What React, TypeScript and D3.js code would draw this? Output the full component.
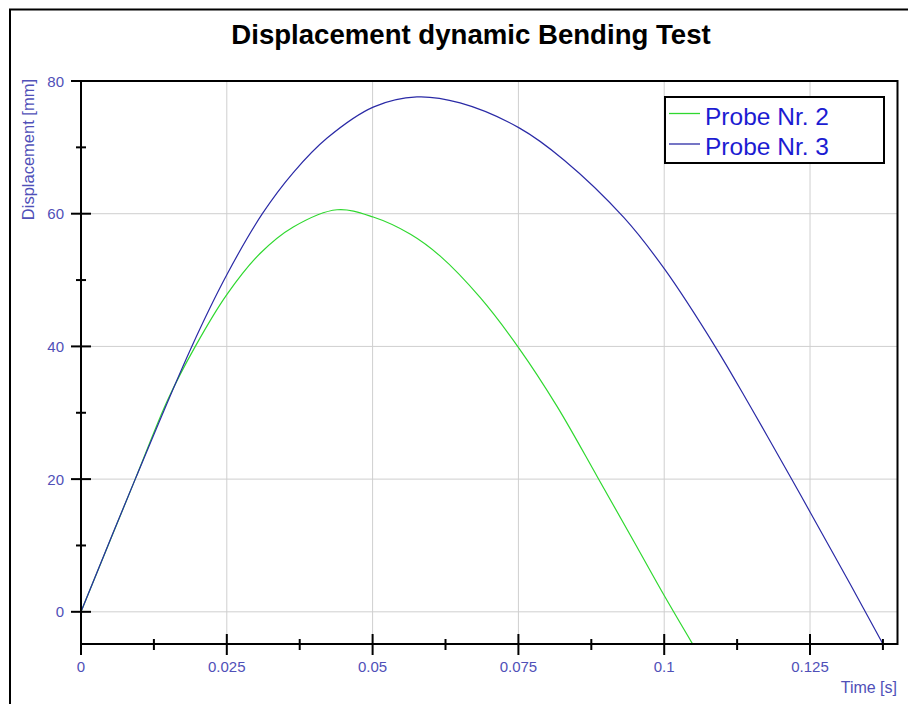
import React from 'react';
import * as d3 from 'd3';

// Probe Nr. 2 (green)
const probe2Time = [0, 0.0093, 0.0149, 0.0196, 0.025, 0.0307, 0.0364, 0.0439, 0.0501, 0.0565, 0.0616, 0.0685, 0.0752, 0.0816, 0.0885, 0.0948, 0.1001, 0.1049];
const probe2Disp = [0, 20, 32, 40, 47.8, 54, 58, 60.6, 59.5, 56.9, 53.6, 47.3, 39.6, 31, 20.4, 10.6, 2.3, -4.9];

// Probe Nr. 3 (blue)
const probe3Time = [0, 0.0093, 0.019, 0.025, 0.0311, 0.0364, 0.0422, 0.0502, 0.0576, 0.065, 0.0752, 0.0828, 0.0931, 0.1001, 0.109, 0.1148, 0.1216, 0.1251, 0.132, 0.1375];
const probe3Disp = [0, 20, 40, 50.8, 60, 66.2, 71.4, 76.1, 77.6, 76.7, 72.9, 68.1, 59.4, 51.6, 39.6, 30.9, 20.4, 14.9, 4.0, -4.85];

const xMajor = [0, 0.025, 0.05, 0.075, 0.1, 0.125];
const xMajorLabels = ['0', '0.025', '0.05', '0.075', '0.1', '0.125'];
const xMinor = [0.0125, 0.0375, 0.0625, 0.0875, 0.1125, 0.1375];
const yMajor = [0, 20, 40, 60, 80];
const yMinor = [10, 30, 50, 70];
const legendItems = ['Probe Nr. 2', 'Probe Nr. 3'];

const FONT = '"Liberation Sans", Arial, sans-serif';
const axisColor = '#5050b8';
const green = '#2fd82f';
const blue = '#2a2aa6';

export default function App() {
  const W = 908, H = 704;
  const x = d3.scaleLinear().domain([0, 0.14]).range([81, 897.5]);
  const y = d3.scaleLinear().domain([-4.85, 80]).range([644, 81]);
  const [x0, x1] = x.range();
  const [yb, yt] = y.range();

  const line = d3.line<number>()
    .curve(d3.curveCatmullRom.alpha(0.5));
  const path2 = line(probe2Time.map((t, i) => [x(t), y(probe2Disp[i])]) as any);
  const path3 = line(probe3Time.map((t, i) => [x(t), y(probe3Disp[i])]) as any);

  return (
    <svg width={W} height={H} style={{ position: 'absolute', left: 0, top: 0, background: '#fff' }} fontFamily={FONT}>
      <rect x={0} y={0} width={W} height={H} fill="#fff" />
      {/* outer frame */}
      <rect x={10} y={9.5} width={1000} height={1000} fill="none" stroke="#000" strokeWidth={2} />

      {/* title */}
      <text x={471} y={44} textAnchor="middle" fontSize={27.6} fontWeight="bold" fill="#000">
        Displacement dynamic Bending Test
      </text>

      {/* grid */}
      {xMajor.filter(v => v > 0).map(v => (
        <line key={'gx' + v} x1={x(v)} x2={x(v)} y1={yt} y2={yb} stroke="#cfcfcf" strokeWidth={1} />
      ))}
      {yMajor.filter(v => v < 80).map(v => (
        <line key={'gy' + v} x1={x0} x2={x1} y1={y(v)} y2={y(v)} stroke="#cfcfcf" strokeWidth={1} />
      ))}

      {/* curves */}
      <path d={path2 || ''} fill="none" stroke={green} strokeWidth={1.2} />
      <path d={path3 || ''} fill="none" stroke={blue} strokeWidth={1.2} />

      {/* axes / border */}
      <line x1={x0} x2={x1} y1={yt} y2={yt} stroke="#000" strokeWidth={2} />
      <line x1={x1} x2={x1} y1={yt - 1} y2={yb + 1} stroke="#000" strokeWidth={2} />
      <line x1={x0} x2={x1} y1={yb} y2={yb} stroke="#000" strokeWidth={2} />
      <line x1={x0} x2={x0} y1={yt - 1} y2={yb + 11} stroke="#000" strokeWidth={2} />

      {yMajor.map(v => (
        <line key={'ty' + v} x1={x0 - 10} x2={v === 80 ? x0 : x0 + 10} y1={y(v)} y2={y(v)} stroke="#000" strokeWidth={2} />
      ))}
      {yMinor.map(v => (
        <line key={'tym' + v} x1={x0 - 5} x2={x0 + 5} y1={y(v)} y2={y(v)} stroke="#000" strokeWidth={2} />
      ))}
      {xMajor.map(v => (
        <line key={'tx' + v} x1={x(v)} x2={x(v)} y1={v === 0 ? yb : yb - 10} y2={yb + 11} stroke="#000" strokeWidth={2} />
      ))}
      {xMinor.map(v => (
        <line key={'txm' + v} x1={x(v)} x2={x(v)} y1={yb - 5} y2={yb + 6} stroke="#000" strokeWidth={2} />
      ))}

      {/* tick labels */}
      {yMajor.map(v => (
        <text key={'ly' + v} x={64} y={y(v) + 5.5} textAnchor="end" fontSize={15} fill={axisColor}>{v}</text>
      ))}
      {xMajor.map((v, i) => (
        <text key={'lx' + v} x={x(v)} y={671.5} textAnchor="middle" fontSize={15} fill={axisColor}>{xMajorLabels[i]}</text>
      ))}

      {/* axis titles */}
      <text transform="translate(34,79) rotate(-90)" textAnchor="end" fontSize={16.5} fill={axisColor}>Displacement [mm]</text>
      <text x={897} y={692.5} textAnchor="end" fontSize={16} fill={axisColor}>Time [s]</text>

      {/* legend */}
      <rect x={665} y={97} width={219} height={66} fill="#fff" stroke="#000" strokeWidth={2} />
      {legendItems.map((name, i) => (
        <g key={name}>
          <line x1={669} x2={700} y1={113.5 + i * 30.5} y2={113.5 + i * 30.5} stroke={i === 0 ? green : blue} strokeWidth={1.3} />
          <text x={705} y={125 + i * 30} fontSize={24.5} fill="#1c1cd2">{name}</text>
        </g>
      ))}
    </svg>
  );
}
